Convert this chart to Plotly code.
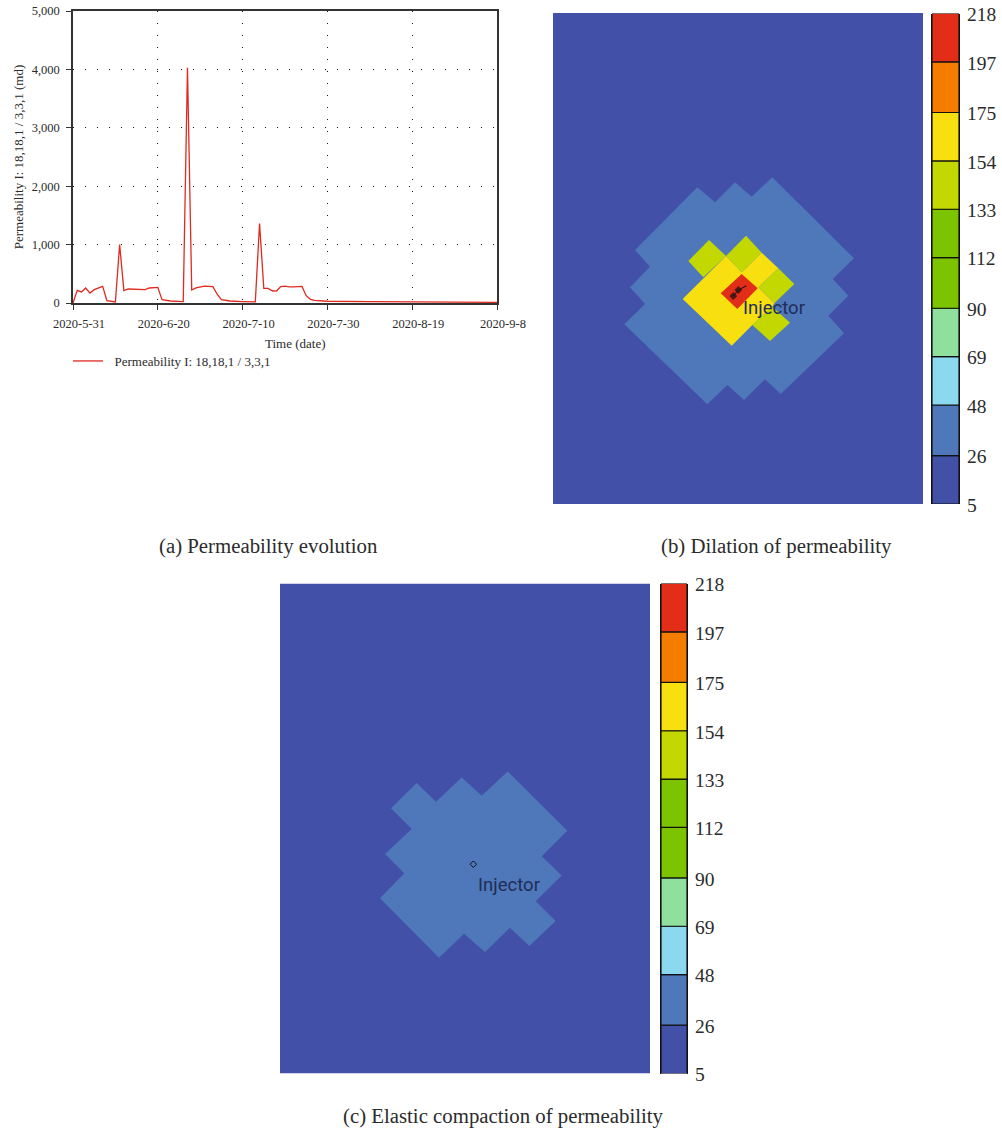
import plotly.graph_objects as go

W, H = 1002, 1130

# ---- (a) permeability time series ----
dates = ["2020-05-31","2020-06-01","2020-06-02","2020-06-03","2020-06-04","2020-06-05","2020-06-07","2020-06-08",
         "2020-06-10","2020-06-11","2020-06-12","2020-06-13","2020-06-17","2020-06-18","2020-06-20","2020-06-21",
         "2020-06-23","2020-06-26","2020-06-27","2020-06-28","2020-06-29","2020-06-30","2020-07-01","2020-07-03",
         "2020-07-04","2020-07-05","2020-07-07","2020-07-10","2020-07-13","2020-07-14","2020-07-15","2020-07-16",
         "2020-07-17","2020-07-18","2020-07-19","2020-07-20","2020-07-21","2020-07-22","2020-07-23","2020-07-24",
         "2020-07-25","2020-07-26","2020-07-27","2020-07-30","2020-08-09","2020-08-19","2020-08-29","2020-09-08"]
permeability = [0,217,190,257,170,228,285,40,
                17,1000,211,240,230,257,268,57,
                34,23,4030,223,257,268,290,280,
                150,57,34,25,20,1360,250,250,
                210,205,280,290,275,275,275,285,
                125,63,46,30,22,17,14,11]
x_tick_vals = ["2020-05-31","2020-06-20","2020-07-10","2020-07-30","2020-08-19","2020-09-08"]
x_tick_text = ["2020-5-31","2020-6-20","2020-7-10","2020-7-30","2020-8-19","2020-9-8"]
y_tick_vals = [0,1000,2000,3000,4000,5000]
series_name = "Permeability I: 18,18,1 / 3,3,1"

# ---- colour scale shared by both maps ----
levels = [5,26,48,69,90,112,133,154,175,197,218]
level_colors = ["#4350a8","#4e78ba","#8cd8ee","#8fe09d","#7cc400","#7cc400","#c2d800","#f8e010","#f47d00","#e22d18"]

# ---- (b) dilation map regions, in map units ----
b_blue_x = [144.3,162,182,198.7,219.3,301,279.7,295.3,275.3,291,227.7,212,191,174.3,154.3,71.3,92,77,97,82,144.3]
b_blue_y = [174.3,189.3,169.3,183.7,164.3,245.3,266,282.7,302.7,320.3,381,366.3,387,372,391.3,311.3,291,274.3,253.7,237,174.3]
b_green_x = [156,173,150.3,135.3,156,None,193,208.7,188.7,173,193,None,225.3,241.3,221.3,205.3,225.3,None,219.3,237,217,199.3,219.3]
b_green_y = [227,243,264.3,248,227,None,222.7,239.7,259.3,243,222.7,None,255.3,271,290.3,274.3,255.3,None,293.7,309.7,328,312,293.7]
b_yellow_x = [173,188.7,208.7,225.3,205.3,221.3,219.3,199.3,178.7,129.7,173]
b_yellow_y = [243,259.3,239.7,255.3,274.3,290.3,293.7,312,332.7,286,243]
b_red_x = [188.7,204.7,184.3,167.7,188.7]
b_red_y = [261,275.3,296,280.3,261]
b_well_x = [180.3,185.3,193]
b_well_y = [283,277,273]
b_label_xy = (221,296)

# ---- (c) compaction map region, in map units ----
c_blue_x = [136.7,156,181.7,201.7,227.7,287.3,261.7,281.7,255.7,275.7,249.3,230,205,184,159,100,124.3,105,131.7,111,136.7]
c_blue_y = [200,218.7,194.3,212.7,188.3,247.7,273.3,292.7,318.3,338.3,363.3,345,369.3,351,375,315.3,290.3,271,246,225.3,200]
c_well_xy = (193.3,281.3)
c_label_xy = (229,303)

map_w, map_h = 370, 491

def fx(a, b):
    return [a / W, b / W]
def fy(top, bottom):
    return [1 - bottom / H, 1 - top / H]

SERIF = "Liberation Serif"
INK = "#2b2b2b"
fig = go.Figure()

# (a)
fig.add_trace(go.Scatter(x=dates, y=permeability, mode="lines", name="\u00a0\u00a0" + series_name,
                         line=dict(color="#e0291f", width=1.3), xaxis="x", yaxis="y", showlegend=True))

def poly(xs, ys, color, xa, ya):
    fig.add_trace(go.Scatter(x=xs, y=ys, mode="lines", fill="toself", fillcolor=color,
                             line=dict(width=0, color=color), xaxis=xa, yaxis=ya,
                             showlegend=False, hoverinfo="skip"))

def label(xy, xa, ya):
    fig.add_trace(go.Scatter(x=[xy[0]], y=[xy[1]], mode="text", text=["Injector"],
                             textfont=dict(family="Roboto", size=18.5, color="#1f2d58"),
                             xaxis=xa, yaxis=ya, showlegend=False, hoverinfo="skip"))

def colorbar(xa, ya):
    fig.add_trace(go.Bar(x=[0] * (len(levels) - 1),
                         y=[levels[i + 1] - levels[i] for i in range(len(levels) - 1)],
                         base=levels[:-1], width=1,
                         marker=dict(color=level_colors, line=dict(color="#111111", width=1.2)),
                         xaxis=xa, yaxis=ya, showlegend=False, hoverinfo="skip"))

# (b)
poly([0, map_w, map_w, 0, 0], [0, 0, map_h, map_h, 0], level_colors[0], "x2", "y2")
poly(b_blue_x, b_blue_y, level_colors[1], "x2", "y2")
poly(b_green_x, b_green_y, level_colors[6], "x2", "y2")
poly(b_yellow_x, b_yellow_y, level_colors[7], "x2", "y2")
poly(b_red_x, b_red_y, level_colors[9], "x2", "y2")
fig.add_trace(go.Scatter(x=b_well_x, y=b_well_y, mode="lines+markers",
                         line=dict(color="#111111", width=1),
                         marker=dict(color="#111111", size=[6, 6, 1], symbol="diamond", line=dict(width=0)),
                         xaxis="x2", yaxis="y2", showlegend=False, hoverinfo="skip"))
label(b_label_xy, "x2", "y2")
colorbar("x3", "y3")

# (c)
poly([0, map_w, map_w, 0, 0], [0, 0, map_h, map_h, 0], level_colors[0], "x4", "y4")
poly(c_blue_x, c_blue_y, level_colors[1], "x4", "y4")
fig.add_trace(go.Scatter(x=[c_well_xy[0]], y=[c_well_xy[1]], mode="markers",
                         marker=dict(color="rgba(0,0,0,0)", size=5, symbol="diamond",
                                     line=dict(color="#111111", width=1)),
                         xaxis="x4", yaxis="y4", showlegend=False, hoverinfo="skip"))
label(c_label_xy, "x4", "y4")
colorbar("x5", "y5")

tick_font = dict(family=SERIF, size=12.5, color=INK)
title_font = dict(family=SERIF, size=13, color=INK)
hidden = dict(visible=False, showgrid=False, zeroline=False, automargin=False)
cb_x = dict(visible=False, range=[-0.5, 0.5], showgrid=False, zeroline=False, automargin=False)
def cb_y(anchor, dom):
    return dict(domain=dom, anchor=anchor, side="right", range=[levels[0], levels[-1]], automargin=False,
                tickvals=levels, ticktext=[str(v) for v in levels], ticks="outside", ticklen=3,
                ticklabelshift=1,
                tickcolor="rgba(0,0,0,0)", showgrid=False, zeroline=False,
                showline=True, mirror=True, linecolor="#111111", linewidth=1,
                tickfont=dict(family=SERIF, size=19.5, color=INK))

annots = [
    dict(text=t, x=x / W, y=1 - y / H, xref="paper", yref="paper", showarrow=False,
         font=dict(family=SERIF, size=20.8, color=INK), xanchor="center", yanchor="middle")
    for t, x, y in [("(a) Permeability evolution", 268.5, 546),
                    ("(b) Dilation of permeability", 776.5, 546),
                    ("(c) Elastic compaction of permeability", 504, 1116)]
]
annots.append(dict(text="Time (date)", x=295 / W, y=1 - 343.5 / H, xref="paper", yref="paper", showarrow=False,
                   font=title_font, xanchor="center", yanchor="middle"))

fig.update_layout(
    width=W, height=H, autosize=False,
    margin=dict(l=0, r=0, t=0, b=0),
    paper_bgcolor="white", plot_bgcolor="white",
    barmode="overlay",
    showlegend=True,
    legend=dict(x=68 / W, y=1 - 346 / H, xanchor="left", yanchor="top",
                bgcolor="rgba(0,0,0,0)", font=dict(family=SERIF, size=13, color=INK)),
    xaxis=dict(domain=fx(73, 497), anchor="y", type="date", automargin=False,
               range=["2020-05-31", "2020-09-08"], tickvals=x_tick_vals, ticktext=x_tick_text,
               ticks="outside", ticklen=5, tickwidth=1, tickcolor="#333333", tickangle=0,
               ticklabelshift=6, ticklabelstandoff=3,
               showline=True, mirror=True, linecolor="#333333", linewidth=1.5,
               showgrid=True, gridcolor="#111111", griddash="1px,11px", gridwidth=1, zeroline=False,
               tickfont=tick_font),
    yaxis=dict(domain=fy(11, 303), anchor="x", range=[0, 5000], tickvals=y_tick_vals, tickformat=",", automargin=False,
               ticks="outside", ticklen=5, tickwidth=1, tickcolor="#333333", ticklabelstandoff=4,
               showline=True, mirror=True, linecolor="#333333", linewidth=1.5,
               showgrid=True, gridcolor="#111111", griddash="1px,11px", gridwidth=1, zeroline=False,
               tickfont=tick_font, title=dict(text=series_name + " (md)", font=title_font, standoff=5)),
    xaxis2=dict(domain=fx(553, 923), anchor="y2", range=[0, map_w], **hidden),
    yaxis2=dict(domain=fy(13, 504), anchor="x2", range=[map_h, 0], **hidden),
    xaxis3=dict(domain=fx(932, 959), anchor="y3", **cb_x),
    yaxis3=cb_y("x3", fy(13.5, 504)),
    xaxis4=dict(domain=fx(280, 650), anchor="y4", range=[0, map_w], **hidden),
    yaxis4=dict(domain=fy(583.5, 1073.5), anchor="x4", range=[map_h, 0], **hidden),
    xaxis5=dict(domain=fx(661, 687), anchor="y5", **cb_x),
    yaxis5=cb_y("x5", fy(583.5, 1073.5)),
    annotations=annots,
)

fig.write_html("out.html", config=dict(displayModeBar=False), post_script="document.body.style.margin='0';")
